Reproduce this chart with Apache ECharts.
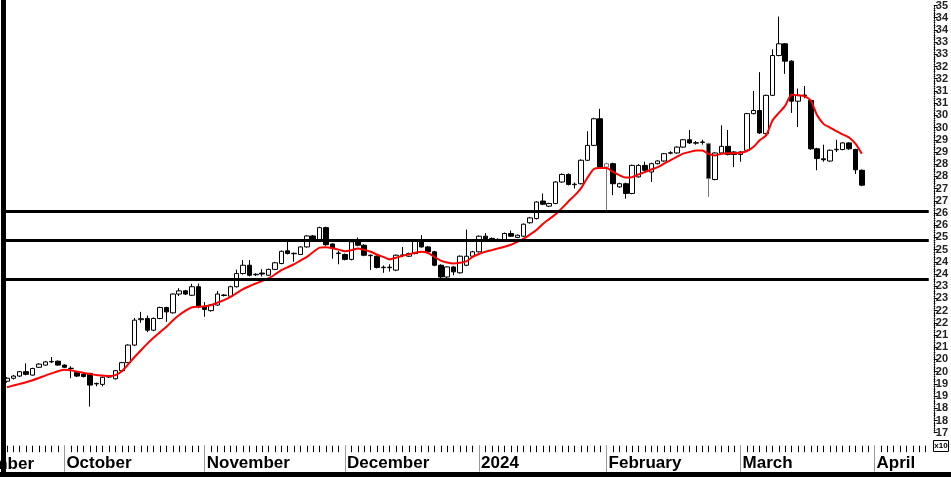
<!DOCTYPE html>
<html>
<head>
<meta charset="utf-8">
<script src="https://cdn.jsdelivr.net/npm/echarts@6/dist/echarts.min.js"></script>
<style>
html,body{margin:0;padding:0;background:#fff;}
#chart{width:951px;height:477px;}
</style>
</head>
<body>
<div id="chart"></div>
<script>
// ---- data (price x10) ----
const monthNames = ['September','October','November','December','2024','February','March','April'];
const monthDays  = [9,22,22,21,20,21,21,9];

const opens = [
19.61,19.73,19.82,20.00,19.86,20.18,20.27,20.40,20.43,20.27,
20.13,19.97,19.90,19.93,19.50,19.48,19.78,19.71,20.04,20.37,
21.09,22.13,22.18,21.70,22.18,22.63,22.41,23.18,23.31,23.13,
23.48,22.66,22.50,22.73,23.12,23.09,23.48,24.02,24.36,23.97,
24.04,23.95,24.19,24.43,24.95,24.83,24.80,25.11,25.56,25.36,
25.90,25.23,24.86,24.80,24.60,25.32,25.18,24.75,24.73,24.26,
24.28,24.16,24.76,24.73,24.84,25.38,25.11,24.91,24.36,23.88,
24.29,24.05,24.36,24.73,24.91,25.55,25.44,25.40,25.41,25.66,
25.50,25.55,26.10,26.27,26.99,26.78,26.89,27.77,28.08,27.66,
27.70,28.66,29.27,30.36,28.38,28.52,27.57,27.70,27.30,27.98,
28.45,28.18,28.52,28.63,28.95,28.96,29.20,29.50,29.36,29.39,
29.34,27.87,28.96,29.23,29.00,28.90,29.07,30.57,30.70,29.75,
31.32,32.95,33.43,32.72,31.08,31.31,31.11,29.13,28.72,28.63,
29.09,29.10,29.37,29.10,28.25];
const closes = [
19.73,19.82,20.00,19.89,20.13,20.31,20.40,20.42,20.27,20.18,
20.14,19.82,19.80,19.45,19.52,19.77,19.80,20.04,20.37,21.09,
22.11,22.17,21.70,22.18,22.63,22.45,23.18,23.31,23.18,23.48,
22.66,22.55,22.73,23.18,23.14,23.48,24.02,24.36,23.95,23.99,
24.00,24.19,24.46,24.93,24.84,24.85,25.11,25.56,25.36,25.90,
25.20,25.06,24.84,24.60,25.32,25.18,24.77,24.77,24.27,24.28,
24.26,24.77,24.78,24.84,25.38,25.11,24.91,24.36,23.88,24.29,
24.09,24.73,24.73,24.91,25.55,25.45,25.46,25.42,25.66,25.55,
25.59,26.04,26.30,26.95,26.86,26.89,27.77,28.08,27.67,27.68,
28.66,29.27,30.36,28.38,28.52,27.70,27.70,27.30,28.45,28.45,
28.25,28.52,28.63,28.93,28.97,29.20,29.50,29.37,29.38,29.41,
27.91,28.96,29.23,28.90,28.90,29.00,30.57,30.70,29.78,31.32,
32.95,33.43,32.72,31.08,31.32,31.33,29.13,28.73,28.68,29.07,
29.11,29.37,29.13,28.27,27.64];
const lows = [
19.55,19.68,19.78,19.85,19.84,20.15,20.25,20.36,20.24,20.15,
19.73,19.78,19.76,18.57,19.40,19.40,19.74,19.68,20.02,20.35,
21.05,22.00,21.62,21.66,22.15,22.04,22.38,23.10,23.14,23.10,
22.60,22.25,22.46,22.70,23.08,23.06,23.45,23.98,23.90,23.92,
23.90,23.92,24.16,24.40,24.80,24.50,24.78,25.08,25.32,25.33,
25.16,24.63,24.40,24.56,24.56,25.14,24.73,24.16,24.23,24.05,
24.10,24.12,24.70,24.70,24.80,25.08,24.87,24.32,23.80,23.84,
23.95,24.02,24.32,24.70,24.88,25.42,25.40,25.36,25.38,25.52,
25.47,25.52,26.06,26.24,26.82,26.74,26.86,27.74,27.63,27.50,
27.67,28.63,29.24,28.34,26.60,27.23,27.53,27.09,27.27,27.95,
28.21,27.77,28.49,28.60,28.90,28.93,29.17,29.33,29.30,29.30,
27.16,27.84,28.93,28.86,28.38,28.60,29.04,30.54,29.74,29.72,
31.29,32.92,32.20,30.60,30.02,31.20,29.09,28.25,28.60,28.60,
29.00,29.07,29.09,28.10,27.60];
const highs = [
19.78,19.86,20.02,20.34,20.16,20.35,20.44,20.60,20.46,20.30,
20.22,20.00,19.94,19.95,19.55,19.80,19.84,20.06,20.40,21.12,
22.20,22.45,22.30,22.22,22.66,22.66,23.20,23.42,23.35,23.60,
23.61,22.85,22.76,23.30,23.18,23.52,24.18,24.57,24.57,24.03,
24.20,24.22,24.50,24.96,25.38,24.88,25.14,25.60,25.60,25.94,
25.94,25.26,24.95,24.84,25.35,25.50,25.22,24.80,24.76,24.35,
24.40,24.80,25.11,24.88,25.42,25.59,25.15,24.95,24.40,24.32,
24.32,24.76,25.82,24.95,25.58,25.68,25.50,25.46,25.70,25.78,
25.62,26.07,26.34,26.98,27.30,26.92,27.80,28.12,28.12,27.75,
28.70,29.85,30.40,30.77,28.56,28.56,27.74,27.74,28.48,28.50,
28.60,28.56,28.66,28.96,29.03,29.23,29.53,29.90,29.45,29.50,
29.38,28.99,30.09,29.90,29.03,29.03,30.60,31.50,32.27,31.35,
33.20,34.55,33.46,32.76,31.60,31.70,31.15,29.17,29.30,29.10,
29.50,29.40,29.40,29.13,28.28];
const movingAvg = [
19.36,19.43,19.50,19.57,19.65,19.74,19.84,19.93,20.02,20.08,
20.06,20.00,19.95,19.90,19.86,19.84,19.82,19.86,20.02,20.30,
20.60,20.88,21.15,21.40,21.62,21.84,22.10,22.32,22.50,22.64,
22.66,22.68,22.73,22.83,22.93,23.05,23.22,23.38,23.50,23.61,
23.72,23.82,23.98,24.16,24.28,24.40,24.55,24.70,24.90,25.08,
25.10,25.06,25.00,24.93,24.98,25.05,24.99,24.91,24.80,24.70,
24.60,24.67,24.75,24.81,24.87,24.91,24.86,24.70,24.55,24.47,
24.43,24.46,24.52,24.70,24.82,24.91,24.98,25.05,25.12,25.20,
25.32,25.45,25.62,25.80,26.05,26.25,26.45,26.70,26.97,27.22,
27.52,27.95,28.30,28.34,28.34,28.18,28.05,27.95,27.97,28.08,
28.18,28.28,28.38,28.52,28.66,28.80,28.93,29.00,29.06,29.06,
28.92,28.86,28.93,28.95,28.95,28.97,29.04,29.20,29.48,29.68,
30.29,30.60,30.90,31.35,31.32,31.29,31.11,30.50,30.15,30.00,
29.85,29.72,29.59,29.34,28.93];
const levels = [26.56, 25.38, 23.80];
const grayWickDays = [94, 110];
const yMin = 17.5, yMax = 35, yStep = 0.5;

// ---- build categories ----
const categories = [];
const monthStart = {};
monthNames.forEach((m, mi) => {
  for (let d = 0; d < monthDays[mi]; d++) {
    if (d === 0) monthStart[categories.length] = m;
    categories.push(m + ' #' + (d + 1));
  }
});
const candleData = opens.map((o, i) => {
  const v = [o, closes[i], lows[i], highs[i]];
  if (grayWickDays.indexOf(i) >= 0) {
    return {value: v, itemStyle: {borderColor: '#777', borderColor0: '#777'}};
  }
  return v;
});

const chart = echarts.init(document.getElementById('chart'), null, {renderer: 'canvas'});
const FONT = '"Liberation Sans", Arial, Helvetica, sans-serif';
const bandW = 6.38;
const gridLeft = 3.8;
const gridRight = 951 - (gridLeft + bandW * categories.length);

chart.setOption({
  animation: false,
  backgroundColor: '#ffffff',
  grid: {left: gridLeft, right: gridRight, top: 5, bottom: 44.3, containLabel: false},
  xAxis: [
    {
      type: 'category', data: categories, boundaryGap: true, offset: 13,
      axisLine: {show: false},
      axisTick: {show: true, alignWithLabel: true, length: 6.5, interval: 0, lineStyle: {color: '#000', width: 1}},
      axisLabel: {show: false, interval: 0},
      splitLine: {show: false}
    },
    {
      type: 'category', data: categories, boundaryGap: true, offset: 13, position: 'bottom',
      axisLine: {show: false},
      axisTick: {
        show: true, alignWithLabel: true, length: 26,
        interval: (i) => i > 0 && monthStart[i] !== undefined,
        lineStyle: {color: '#999', width: 1}
      },
      axisLabel: {
        show: true, margin: 9, align: 'left', padding: [0, 0, 0, 2],
        interval: (i) => i > 0 && monthStart[i] !== undefined,
        formatter: (v) => v.split(' #')[0],
        fontFamily: FONT, fontWeight: 'bold', fontSize: 17, color: '#000'
      },
      splitLine: {show: false}
    }
  ],
  yAxis: {
    type: 'value', position: 'right', min: yMin, max: yMax, interval: yStep, offset: 5,
    axisLine: {show: true, lineStyle: {color: '#000', width: 1, type: 'dotted'}},
    axisTick: {show: true, length: 4, lineStyle: {color: '#000'}},
    minorTick: {show: true, splitNumber: 5, length: 1.5, lineStyle: {color: '#000'}},
    axisLabel: {
      margin: 2, fontFamily: FONT, fontWeight: 'bold', fontSize: 11, color: '#222',
      formatter: (v) => String(Math.floor(v + 1e-9))
    },
    splitLine: {show: false}
  },
  series: [
    {
      type: 'candlestick', xAxisIndex: 0, data: candleData, barWidth: 5,
      itemStyle: {color: '#ffffff', color0: '#000000', borderColor: '#000000', borderColor0: '#000000', borderWidth: 1},
      markLine: {
        silent: true, symbol: ['none', 'none'], label: {show: false},
        lineStyle: {color: '#000', width: 3, type: 'solid'},
        data: levels.map(v => ({yAxis: v}))
      }
    },
    {
      type: 'line', xAxisIndex: 0, data: movingAvg, showSymbol: false, smooth: 0.2,
      lineStyle: {color: '#ff0000', width: 2}, z: 3
    }
  ],
  graphic: [
    {type: 'text', x: 34, y: 456, style: {text: 'September', textAlign: 'right', textVerticalAlign: 'top', font: 'bold 17px ' + FONT, fill: '#000'}, z: 10},
    {type: 'rect', shape: {x: 1, y: 0, width: 5, height: 477}, style: {fill: '#000'}, z: 20},
    {type: 'rect', shape: {x: 0, y: 472, width: 951, height: 5}, style: {fill: '#000'}, z: 20},
    {type: 'rect', shape: {x: 933.5, y: 440.5, width: 15, height: 11}, style: {fill: '#fff', stroke: '#000', lineWidth: 1}, z: 20},
    {type: 'text', x: 941, y: 446, style: {text: 'x10', textAlign: 'center', textVerticalAlign: 'middle', font: 'bold 8px ' + FONT, fill: '#000'}, z: 21}
  ]
});
</script>
</body>
</html>
